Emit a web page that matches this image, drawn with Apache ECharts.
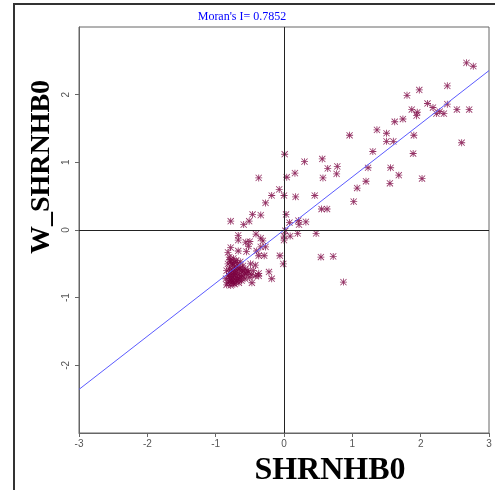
<!DOCTYPE html>
<html>
<head>
<meta charset="utf-8">
<script src="https://cdn.jsdelivr.net/npm/echarts@6/dist/echarts.min.js"></script>
<style>
  html, body { margin: 0; padding: 0; background: #fff; }
  #chart { width: 495px; height: 490px; }
</style>
</head>
<body>
<div id="chart"></div>
<script>
// standardized variable (x) and its spatial lag (y)
const shrnhb0 = [
  2.67, 2.77, 2.39, 1.98, 1.80, 2.10, 2.18, 2.39, 1.87, 1.95, 1.94, 2.23, 2.28, 2.34, 2.53, 2.71,
  1.74, 1.62, 1.36, 1.50, 0.96, 1.90, 1.50, 1.60, 2.60, 1.30, 1.89, 0.01, 0.56, 0.30, 0.64, 0.78,
  1.23, 1.56, -0.37, 0.04, 0.16, 0.57, 0.77, 1.68, 2.02, -0.07, -0.18, 0.00, 0.17, 0.45, 1.07, 1.20,
  1.55, -0.27, 1.02, -0.46, -0.34, 0.03, 0.55, 0.63, -0.78, -0.59, -0.51, 0.08, 0.21, 0.22, 0.32,
  0.02, 0.20, 0.47, -0.67, -0.41, -0.34, -0.31, -0.67, -0.56, -0.50, -0.52, 0.00, 0.00, 0.09, -0.27,
  -0.34, -0.78, -0.67, -0.55, -0.40, -0.29, -0.37, -0.06, -0.01, 0.54, 0.72, 0.87, -0.22, -0.18,
  -0.47, -0.49, -0.42, -0.37, -0.37, -0.52,
  -0.80, -0.74, -0.70, -0.78, -0.82, -0.75, -0.68, -0.64, -0.60, -0.72, -0.80, -0.84, -0.77, -0.70,
  -0.66, -0.62, -0.57, -0.53, -0.74, -0.81, -0.85, -0.78, -0.70, -0.65, -0.60, -0.55, -0.48, -0.45,
  -0.42, -0.76, -0.82, -0.70, -0.66, -0.62, -0.57, -0.84, -0.78, -0.72, -0.68, -0.76, -0.80, -0.73,
  -0.64, -0.58, -0.50, -0.82,
  -0.79, -0.76, -0.72, -0.69, -0.73, -0.79, -0.75, -0.68, -0.63, -0.71, -0.77, -0.80, -0.74, -0.66,
  -0.61
];
const wShrnhb0 = [
  2.47, 2.42, 2.13, 2.07, 1.99, 1.87, 1.81, 1.86, 1.78, 1.74, 1.69, 1.72, 1.75, 1.72, 1.78, 1.78,
  1.64, 1.60, 1.48, 1.43, 1.40, 1.40, 1.31, 1.31, 1.29, 1.16, 1.13, 1.12, 1.05, 1.01, 0.91, 0.94,
  0.92, 0.92, 0.77, 0.78, 0.84, 0.77, 0.83, 0.81, 0.76, 0.60, 0.51, 0.51, 0.49, 0.51, 0.62, 0.72,
  0.69, 0.40, 0.42, 0.23, 0.22, 0.23, 0.31, 0.31, 0.13, 0.08, 0.13, 0.11, 0.14, 0.08, 0.12,
  -0.01, -0.05, -0.05, -0.08, -0.06, -0.12, -0.16, -0.15, -0.18, -0.17, -0.24, -0.09, -0.15, -0.09, -0.25,
  -0.25, -0.26, -0.31, -0.32, -0.31, -0.38, -0.38, -0.38, -0.50, -0.40, -0.39, -0.77, -0.62, -0.72,
  -0.78, -0.50, -0.52, -0.64, -0.68, -0.62,
  -0.40, -0.42, -0.45, -0.47, -0.50, -0.52, -0.50, -0.47, -0.53, -0.56, -0.57, -0.60, -0.62, -0.60,
  -0.58, -0.62, -0.58, -0.60, -0.66, -0.67, -0.72, -0.72, -0.70, -0.67, -0.68, -0.65, -0.66, -0.60,
  -0.68, -0.77, -0.78, -0.76, -0.73, -0.75, -0.72, -0.81, -0.82, -0.80, -0.64, -0.59, -0.69, -0.73,
  -0.56, -0.63, -0.70, -0.33,
  -0.44, -0.50, -0.48, -0.55, -0.62, -0.64, -0.69, -0.72, -0.70, -0.66, -0.74, -0.75, -0.79, -0.78,
  -0.59
];
const axisTicks = [-3, -2, -1, 0, 1, 2, 3];
const moranI = 0.7852;
const xName = 'SHRNHB0';
const yName = 'W_SHRNHB0';

const points = shrnhb0.map((x, i) => [x, wShrnhb0[i]]);
const lo = axisTicks[0];
const hi = axisTicks[axisTicks.length - 1];
const fitLine = [[lo, lo * moranI], [hi, hi * moranI]];

// asterisk marker
const star = 'path://M4.4 0L5.6 0L5.6 10L4.4 10Z M0 4.4L10 4.4L10 5.6L0 5.6Z ' +
  'M1 0.2L9.8 9L9 9.8L0.2 1Z M9 0.2L9.8 1L1 9.8L0.2 9Z';

const chart = echarts.init(document.getElementById('chart'));

const axisCommon = {
  type: 'value',
  min: lo,
  max: hi,
  interval: 1,
  axisLine: { show: true, onZero: false, lineStyle: { color: '#666', width: 1 } },
  axisTick: { show: true, length: 4, lineStyle: { color: '#666' } },
  splitLine: { show: false },
  axisLabel: { color: '#555', fontSize: 10, fontFamily: 'Liberation Sans' }
};

chart.setOption({
  animation: false,
  backgroundColor: '#fff',
  title: {
    text: "Moran's I= " + moranI,
    left: 237,
    top: 6,
    textAlign: 'center',
    textStyle: { color: '#0000ff', fontSize: 12, fontWeight: 'normal', fontFamily: 'Liberation Serif' }
  },
  grid: {
    left: 79, top: 27, width: 410, height: 406,
    show: true, borderColor: '#666', borderWidth: 1, backgroundColor: 'transparent'
  },
  xAxis: Object.assign({}, axisCommon, {
    axisLabel: Object.assign({}, axisCommon.axisLabel, { margin: 6 })
  }),
  yAxis: Object.assign({}, axisCommon, {
    axisLabel: Object.assign({}, axisCommon.axisLabel, {
      rotate: 90, margin: 8, showMinLabel: false, showMaxLabel: false
    })
  }),
  graphic: [
    {
      type: 'rect', silent: true,
      shape: { x: 14, y: 4, width: 520, height: 520 },
      style: { fill: 'none', stroke: '#333', lineWidth: 2 }
    },
    {
      type: 'text', silent: true,
      x: 330, y: 471,
      style: {
        text: xName, fill: '#000', align: 'center', verticalAlign: 'middle',
        font: 'bold 32px "Liberation Serif"'
      }
    },
    {
      type: 'text', silent: true,
      x: 42, y: 167, rotation: Math.PI / 2,
      style: {
        text: yName, fill: '#000', align: 'center', verticalAlign: 'middle',
        font: 'bold 28px "Liberation Serif"'
      }
    }
  ],
  series: [
    {
      type: 'line',
      data: fitLine,
      symbol: 'none',
      silent: true,
      lineStyle: { color: '#5b5bff', width: 1 },
      markLine: {
        silent: true,
        symbol: 'none',
        label: { show: false },
        lineStyle: { color: '#222', width: 1, type: 'solid' },
        data: [{ xAxis: 0 }, { yAxis: 0 }]
      },
      z: 3
    },
    {
      type: 'scatter',
      data: points,
      symbol: star,
      symbolSize: 7,
      itemStyle: { color: '#7a0040' },
      z: 2
    }
  ]
});
</script>
</body>
</html>
